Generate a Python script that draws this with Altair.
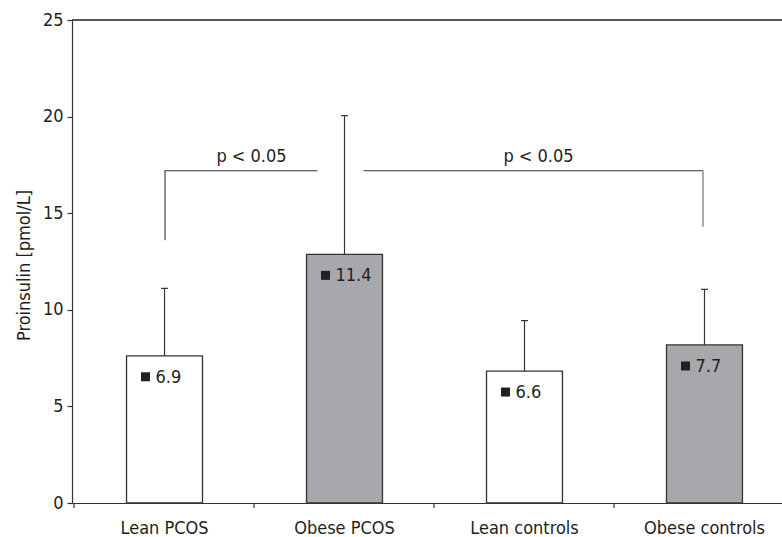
import altair as alt
import pandas as pd

# ---- data ----
groups = ["Lean PCOS", "Obese PCOS", "Lean controls", "Obese controls"]
body_type = ["Lean", "Obese", "Lean", "Obese"]
means = [7.62, 12.87, 6.83, 8.18]
sds = [3.49, 7.18, 2.61, 2.88]
printed_values = [6.9, 11.4, 6.6, 7.7]

# significance brackets
bracket_from = ["Lean PCOS", "Obese PCOS"]
bracket_to = ["Obese PCOS", "Obese controls"]
bracket_text = ["p < 0.05", "p < 0.05"]
bracket_level = [17.2, 17.2]
bracket_left_drop = 13.6
bracket_right_drop = 14.3

FONT = "Liberation Sans Narrow, DejaVu Sans Condensed, sans-serif"
FS = 18
INK = "#231f20"
LINE = "#333333"

df = pd.DataFrame({
    "group": groups,
    "type": body_type,
    "mean": means,
    "sd": sds,
    "label": [f"{v:.1f}" for v in printed_values],
})

xscale = alt.Scale(domain=groups, range=[0, 725], paddingInner=0.578, paddingOuter=0.303)
xaxis = alt.Axis(title=None, ticks=False, labelPadding=16, labelAngle=0, labelFontSize=FS,
                 labelFont=FONT, labelColor=INK, grid=False,
                 domainColor=LINE, domainWidth=1.2)


def xenc(field):
    return alt.X(f"{field}:N", scale=xscale, sort=groups, axis=xaxis)


yscale = alt.Scale(domain=[0, 25], nice=False)
yaxis = alt.Axis(title="Proinsulin [pmol/L]", values=[0, 5, 10, 15, 20, 25],
                 grid=False, tickSize=5, labelPadding=4, labelFontSize=FS,
                 labelFont=FONT, labelColor=INK, titleFont=FONT, titleFontSize=FS,
                 titleFontWeight="normal", titleColor=INK, titleX=-48, titleY=245,
                 titleAngle=270, titleBaseline="middle", titleAlign="center",
                 domainColor=LINE, tickColor=LINE, domainWidth=1.2, tickWidth=1.2)


def yenc(field):
    return alt.Y(f"{field}:Q", scale=yscale, axis=yaxis)


base = alt.Chart(df)

bars = base.mark_bar(stroke=LINE, strokeWidth=1.3).encode(
    x=xenc("group"),
    y=yenc("mean"),
    fill=alt.Fill("type:N", scale=alt.Scale(domain=["Lean", "Obese"],
                                           range=["#ffffff", "#a7a8ab"]), legend=None),
)

# category-boundary ticks below the x axis (half a step left of each band centre)
xticks = base.mark_rule(color=LINE, strokeWidth=1.2, xOffset=-90.5, y2Offset=5).encode(
    x=xenc("group"), y=alt.datum(0), y2=alt.datum(0))

err = base.transform_calculate(upper="datum.mean + datum.sd").mark_rule(
    color=LINE, strokeWidth=1.2).encode(
    x=xenc("group"), y=yenc("mean"), y2="upper:Q")

caps = base.transform_calculate(upper="datum.mean + datum.sd").mark_tick(
    color=LINE, size=7, thickness=1.2, orient="horizontal", opacity=1).encode(
    x=xenc("group"), y=yenc("upper"))

squares = base.mark_square(size=81, color=INK, opacity=1, xOffset=-19, yOffset=21).encode(
    x=xenc("group"), y=yenc("mean"))

labels = base.mark_text(align="left", baseline="middle", fontSize=FS, font=FONT,
                        color=INK, xOffset=-9, yOffset=22).encode(
    x=xenc("group"), y=yenc("mean"), text="label:N")

br = pd.DataFrame({"g1": bracket_from, "g2": bracket_to, "y": bracket_level,
                   "t": bracket_text})
br_left = alt.Chart(br.iloc[[0]])
br_right = alt.Chart(br.iloc[[1]])

left_h = br_left.mark_rule(color=LINE, strokeWidth=1.1, x2Offset=-27).encode(
    x=xenc("g1"), x2="g2:N", y=yenc("y"))
left_v = br_left.transform_calculate(low=str(bracket_left_drop)).mark_rule(
    color=LINE, strokeWidth=1.1, xOffset=0.5).encode(
    x=xenc("g1"), y=yenc("low"), y2="y:Q")
right_h = br_right.mark_rule(color=LINE, strokeWidth=1.1, xOffset=19, x2Offset=-1.5).encode(
    x=xenc("g1"), x2="g2:N", y=yenc("y"))
right_v = br_right.transform_calculate(low=str(bracket_right_drop)).mark_rule(
    color="#666666", strokeWidth=1.1, xOffset=-1.5).encode(
    x=xenc("g2"), y=yenc("low"), y2="y:Q")

left_t = br_left.mark_text(fontSize=FS, font=FONT, color=INK, baseline="alphabetic",
                           xOffset=87, yOffset=-9).encode(
    x=xenc("g1"), y=yenc("y"), text="t:N")
right_t = br_right.transform_calculate(mid="'Lean controls'").mark_text(
    fontSize=FS, font=FONT, color=INK, baseline="alphabetic",
    xOffset=14, yOffset=-9).encode(
    x=xenc("mid"), y=yenc("y"), text="t:N")

top_line = alt.Chart(df).mark_rule(color="#555555", strokeWidth=1.5).encode(
    y=alt.datum(25), x=alt.value(0), x2=alt.value(725))

chart = alt.layer(
    bars, xticks, err, caps, squares, labels, left_h, left_v, right_h, right_v,
    left_t, right_t, top_line
).properties(
    width=710, height=483,
    autosize=alt.AutoSizeParams(type="none"),
    padding={"left": 72, "top": 20, "right": 0, "bottom": 34},
    background="white",
).configure_view(stroke=None).configure(font=FONT)

chart.save("out.html", embed_options={"renderer": "svg", "actions": False})
